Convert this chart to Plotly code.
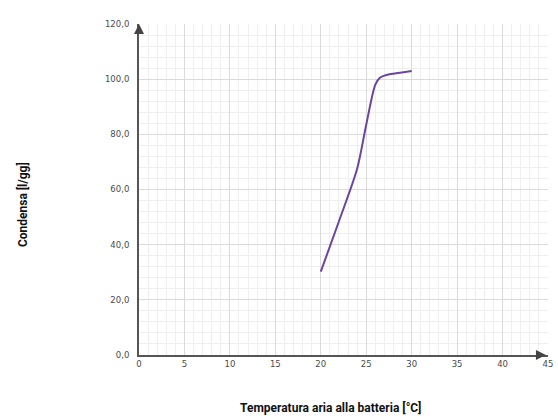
import plotly.graph_objects as go

# temperatura aria alla batteria [°C] vs condensa [l/gg]
temperatura = [20, 22, 24, 25, 26, 26.5, 27, 28, 30]
condensa = [30.2, 48.5, 67.5, 83.5, 98.0, 100.5, 101.3, 102.0, 103.0]

x_ticks = [0, 5, 10, 15, 20, 25, 30, 35, 40, 45]
y_ticks = [0, 20, 40, 60, 80, 100, 120]

tick_font = dict(family="DejaVu Sans", size=8.5, color="#4a4a4a")
title_font = dict(family="Roboto", size=12, color="#111111")

fig = go.Figure()
fig.add_trace(go.Scatter(
    x=temperatura, y=condensa, mode="lines",
    line=dict(color="#6b45a3", width=2, shape="spline", smoothing=0.8),
    showlegend=False,
))

fig.update_xaxes(
    range=[0, 45], tickvals=x_ticks, ticks="", tickfont=tick_font,
    showgrid=True, gridcolor="#dadada", gridwidth=1,
    minor=dict(dtick=1, showgrid=True, gridcolor="#efefef", gridwidth=1),
    showline=True, linecolor="#555555", linewidth=2, zeroline=False,
    automargin=False,
)
fig.update_yaxes(
    range=[0, 120], tickvals=y_ticks, tickformat=".1f", ticks="", tickfont=tick_font,
    showgrid=True, gridcolor="#dadada", gridwidth=1,
    minor=dict(dtick=4, showgrid=True, gridcolor="#efefef", gridwidth=1),
    showline=True, linecolor="#555555", linewidth=2, zeroline=False,
    ticklabelstandoff=6, automargin=False,
)

fig.update_layout(
    width=558, height=419,
    margin=dict(l=139, r=10, t=24, b=64),
    paper_bgcolor="white", plot_bgcolor="white",
    separators=",.",
    annotations=[
        dict(text="<b>Temperatura aria alla batteria [°C]</b>", xref="paper", yref="paper",
             x=0.469, y=-0.16, xanchor="center", yanchor="middle",
             showarrow=False, font=title_font),
        dict(text="<b>Condensa [l/gg]</b>", xref="paper", yref="paper",
             x=-0.286, y=0.453, xanchor="center", yanchor="middle",
             showarrow=False, textangle=-90, font=title_font),
        # frecce sugli assi
        dict(text="", xref="paper", yref="paper", x=0, y=1.0, ax=0, ay=8,
             showarrow=True, arrowhead=2, arrowsize=1, arrowwidth=2, arrowcolor="#444444"),
        dict(text="", xref="paper", yref="paper", x=0.995, y=0, ax=-8, ay=0,
             showarrow=True, arrowhead=2, arrowsize=1, arrowwidth=2, arrowcolor="#444444"),
    ],
)

# drop the default 8px body margin so the figure fills the window exactly
fig.write_html("out.html", config={"displayModeBar": False},
               post_script="document.body.style.margin='0';")
